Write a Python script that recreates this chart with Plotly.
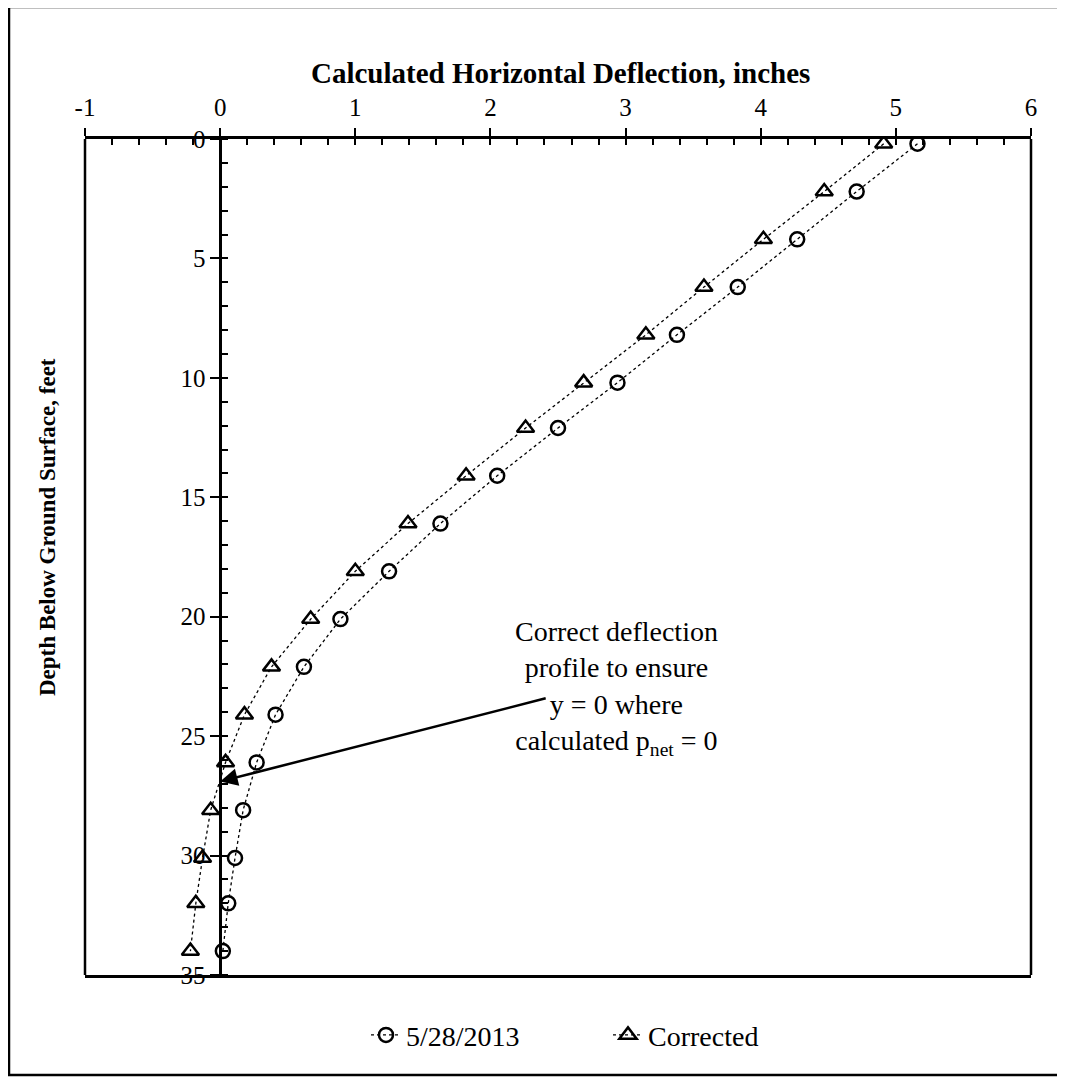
import plotly.graph_objects as go

# ---- data ----
depth_ft = [0.2, 2.2, 4.2, 6.2, 8.2, 10.2, 12.1, 14.1, 16.1, 18.1, 20.1, 22.1, 24.1, 26.1, 28.1, 30.1, 32.0, 34.0]
defl_0528 = [5.16, 4.71, 4.27, 3.83, 3.38, 2.94, 2.50, 2.05, 1.63, 1.25, 0.89, 0.62, 0.41, 0.27, 0.17, 0.11, 0.06, 0.02]
defl_corrected = [4.91, 4.47, 4.02, 3.58, 3.15, 2.69, 2.26, 1.82, 1.39, 1.00, 0.67, 0.38, 0.18, 0.04, -0.07, -0.13, -0.18, -0.22]
series_names = ["5/28/2013", "Corrected"]
x_ticks = [-1, 0, 1, 2, 3, 4, 5, 6]
y_ticks = [0, 5, 10, 15, 20, 25, 30, 35]

FONT = "Liberation Serif"

fig = go.Figure()
fig.add_trace(go.Scatter(
    x=defl_0528, y=depth_ft, name=series_names[0], mode="lines+markers",
    line=dict(color="black", width=1.3, dash="dot"),
    marker=dict(symbol="circle-open", size=14, color="black", line=dict(width=2.5, color="black")),
))
fig.add_trace(go.Scatter(
    x=defl_corrected, y=depth_ft, name=series_names[1], mode="lines+markers",
    line=dict(color="black", width=1.3, dash="dot"),
    marker=dict(symbol="triangle-up-open", size=15, color="black", line=dict(width=2.5, color="black")),
))

fig.update_layout(
    width=1065, height=1077,
    margin=dict(l=77, r=42, t=131, b=110),
    paper_bgcolor="white", plot_bgcolor="white",
    font=dict(family=FONT, size=25, color="black"),
    showlegend=True,
    legend=dict(orientation="h", x=(366 - 85) / 946, xanchor="left", y=-0.072, yanchor="middle",
                font=dict(family=FONT, size=28), bgcolor="rgba(0,0,0,0)", entrywidth=197),
    xaxis=dict(
        side="top", range=[-1, 6], tickvals=x_ticks, ticktext=[str(v) for v in x_ticks],
        showline=True, linecolor="black", linewidth=2.5, mirror=True,
        ticks="outside", ticklen=8, tickwidth=2, tickcolor="black", ticklabelstandoff=2,
        minor=dict(dtick=0.2, ticks="inside", ticklen=6, tickwidth=2, tickcolor="black"),
        showgrid=False, zeroline=False,
        tickfont=dict(family=FONT, size=25),
    ),
    yaxis=dict(
        range=[35, 0], tickvals=y_ticks, ticktext=[str(v) for v in y_ticks],
        anchor="free", position=1/7,
        showline=True, linecolor="black", linewidth=2.5,
        ticks="outside", ticklen=9, tickwidth=2, tickcolor="black",
        minor=dict(dtick=1, ticks="inside", ticklen=6, tickwidth=2, tickcolor="black"),
        showgrid=False, zeroline=False,
        tickfont=dict(family=FONT, size=25),
    ),
)

# frame sides
fig.add_shape(type="line", xref="paper", yref="paper", x0=0, x1=0, y0=0, y1=1,
              line=dict(color="black", width=2.5))
fig.add_shape(type="line", xref="paper", yref="paper", x0=1, x1=1, y0=0, y1=1,
              line=dict(color="black", width=2.5))
# outer border
fig.add_shape(type="rect", xref="paper", yref="paper",
              x0=(9 - 85) / 946, x1=(1070 - 85) / 946,
              y0=(975 - 1075) / 836, y1=(975 - 7) / 836,
              line=dict(color="black", width=2.5))

# axis titles
fig.add_annotation(text="<b>Calculated Horizontal Deflection, inches</b>", xref="paper", yref="paper",
                   x=(560 - 85) / 946, y=(975 - 73) / 836, xanchor="center", yanchor="middle",
                   showarrow=False, font=dict(family=FONT, size=29))
fig.add_annotation(text="<b>Depth Below Ground Surface, feet</b>", xref="paper", yref="paper",
                   x=(47 - 85) / 946, y=(975 - 527) / 836, xanchor="center", yanchor="middle",
                   textangle=-90, showarrow=False, font=dict(family=FONT, size=23))

# note + arrow
fig.add_annotation(text="Correct deflection<br>profile to ensure<br>y = 0 where<br>calculated p<sub>net</sub> = 0",
                   x=2.93, y=23.0, xref="x", yref="y", xanchor="center", yanchor="middle",
                   showarrow=False, align="center", font=dict(family=FONT, size=28))
fig.add_annotation(text="", x=0.0, y=26.9, xref="x", yref="y", ax=2.42, ay=23.4, axref="x", ayref="y",
                   showarrow=True, arrowhead=2, arrowsize=1.4, arrowwidth=2.5, arrowcolor="black")

fig.write_html("out.html")
